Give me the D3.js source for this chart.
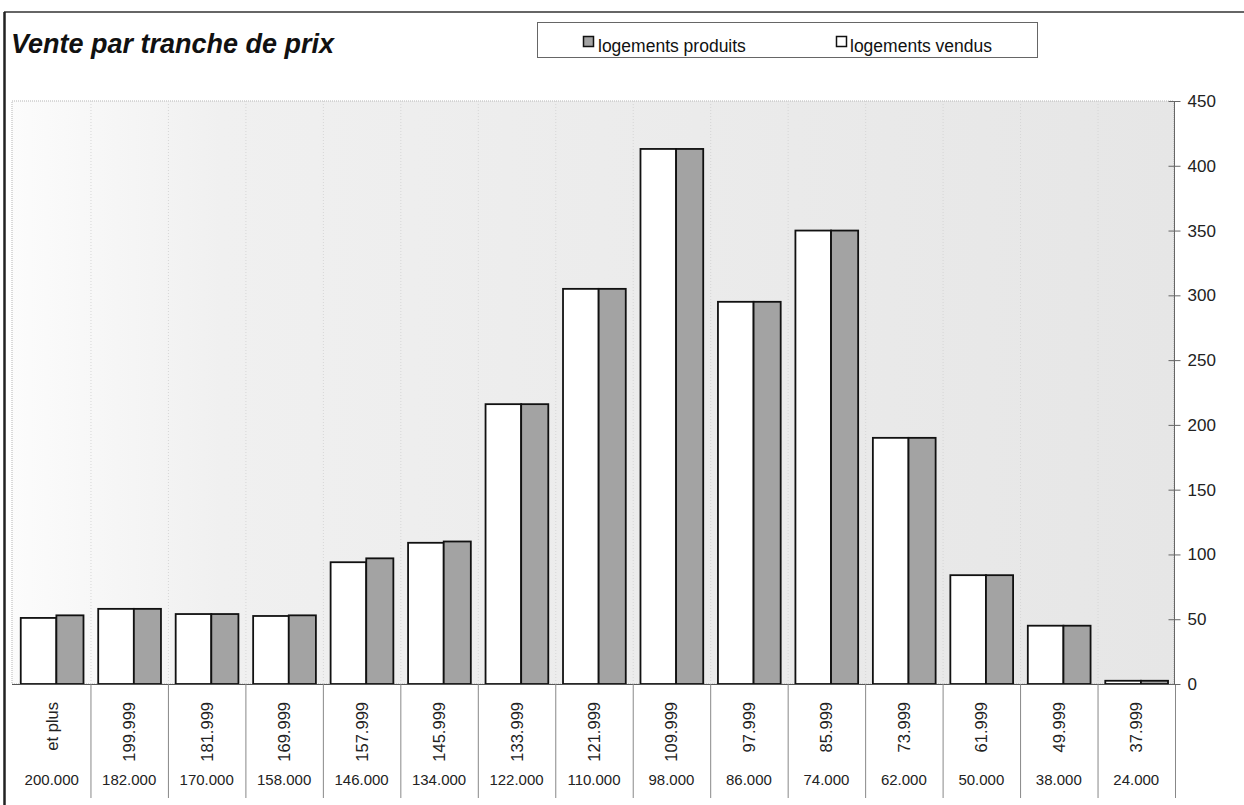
<!DOCTYPE html>
<html>
<head>
<meta charset="utf-8">
<script src="https://cdn.jsdelivr.net/npm/d3@7"></script>
<style>
  html, body { margin: 0; padding: 0; background: #fff; }
  svg { display: block; font-family: "Liberation Sans", Arial, sans-serif; }
</style>
</head>
<body>
<svg id="chart" width="1244" height="805"></svg>
<script>
const upperLabels = ["et plus","199.999","181.999","169.999","157.999","145.999","133.999","121.999","109.999","97.999","85.999","73.999","61.999","49.999","37.999"];
const lowerLabels = ["200.000","182.000","170.000","158.000","146.000","134.000","122.000","110.000","98.000","86.000","74.000","62.000","50.000","38.000","24.000"];
const vendus   = [51, 58, 54, 52.5, 94, 109, 216, 305, 413, 295, 350, 190, 84, 45, 2.5];
const produits = [53, 58, 54, 53, 97, 110, 216, 305, 413, 295, 350, 190, 84, 45, 2.5];
const yTicks = [0, 50, 100, 150, 200, 250, 300, 350, 400, 450];
const seriesNames = ["logements produits", "logements vendus"];

const svg = d3.select("#chart");
const pL = 12, pR = 1174, pT = 101, pB = 684;

const x = d3.scaleBand().domain(upperLabels).range([pL + 1, pR + 1]).padding(0);
const y = d3.scaleLinear().domain([0, 450]).range([pB, pT]);
const bw = x.bandwidth();

// background gradient
const defs = svg.append("defs");
const grad = defs.append("linearGradient").attr("id", "bg").attr("x1", "0").attr("x2", "1").attr("y1", "0").attr("y2", "0");
grad.append("stop").attr("offset", "0%").attr("stop-color", "#fcfcfc");
grad.append("stop").attr("offset", "18%").attr("stop-color", "#f0f0f0");
grad.append("stop").attr("offset", "100%").attr("stop-color", "#e6e6e6");

// outer border
svg.append("line").attr("x1", 4).attr("x2", 1244).attr("y1", 12).attr("y2", 12).attr("stroke", "#333").attr("stroke-width", 1.5);
svg.append("line").attr("x1", 4.5).attr("x2", 4.5).attr("y1", 12).attr("y2", 805).attr("stroke", "#222").attr("stroke-width", 2.5);

// title
svg.append("text").attr("x", 11).attr("y", 53)
  .attr("font-size", 27).attr("font-weight", "bold").attr("font-style", "italic").attr("fill", "#111")
  .text("Vente par tranche de prix");

// legend
const lg = svg.append("g");
lg.append("rect").attr("x", 537.5).attr("y", 22.5).attr("width", 500).attr("height", 35)
  .attr("fill", "#fff").attr("stroke", "#666").attr("stroke-width", 1);
const legendItems = [
  {name: seriesNames[0], fill: "#a3a3a3", sx: 583, tx: 598},
  {name: seriesNames[1], fill: "#fff", sx: 836, tx: 850}
];
legendItems.forEach(d => {
  lg.append("rect").attr("x", d.sx + 0.5).attr("y", 36.5).attr("width", 10).attr("height", 10)
    .attr("fill", d.fill).attr("stroke", "#111").attr("stroke-width", 1.5);
  lg.append("text").attr("x", d.tx).attr("y", 52).attr("font-size", 17.5).attr("fill", "#111").text(d.name);
});

// plot area
svg.append("rect").attr("x", pL).attr("y", pT).attr("width", pR - pL).attr("height", pB - pT)
  .attr("fill", "url(#bg)").attr("stroke", "#b5b5b5").attr("stroke-width", 1).attr("stroke-dasharray", "1,1");

// faint category grid lines in plot
svg.append("g").selectAll("line").data(upperLabels.slice(1)).join("line")
  .attr("x1", d => x(d) + 0.5).attr("x2", d => x(d) + 0.5)
  .attr("y1", pT).attr("y2", pB)
  .attr("stroke", "#d6d6d6").attr("stroke-width", 1).attr("stroke-dasharray", "1,2");

// bars
const bars = svg.append("g");
bars.selectAll("rect.v").data(upperLabels).join("rect").attr("class", "v")
  .attr("x", d => x(d) + bw * 0.1)
  .attr("y", (d, i) => y(vendus[i]))
  .attr("width", bw * 0.46)
  .attr("height", (d, i) => pB - y(vendus[i]))
  .attr("fill", "#fff").attr("stroke", "#111").attr("stroke-width", 1.8);
bars.selectAll("rect.p").data(upperLabels).join("rect").attr("class", "p")
  .attr("x", d => x(d) + bw * 0.56)
  .attr("y", (d, i) => y(produits[i]))
  .attr("width", bw * 0.35)
  .attr("height", (d, i) => pB - y(produits[i]))
  .attr("fill", "#a3a3a3").attr("stroke", "#111").attr("stroke-width", 1.8);

// x axis line
svg.append("line").attr("x1", pL).attr("x2", pR).attr("y1", pB + 0.5).attr("y2", pB + 0.5)
  .attr("stroke", "#555").attr("stroke-width", 1.2);

// table dividers
svg.append("g").selectAll("line").data(upperLabels.slice(1).concat(["__end"])).join("line")
  .attr("x1", d => (d === "__end" ? pR + 1 : x(d)) + 0.5)
  .attr("x2", d => (d === "__end" ? pR + 1 : x(d)) + 0.5)
  .attr("y1", pB).attr("y2", 798)
  .attr("stroke", "#888").attr("stroke-width", 1);

// rotated upper labels
svg.append("g").selectAll("text").data(upperLabels).join("text")
  .attr("transform", d => `translate(${x(d) + bw / 2 + 6},702) rotate(-90)`)
  .attr("text-anchor", "end").attr("font-size", 16.5).attr("fill", "#222")
  .text(d => d);

// lower labels
svg.append("g").selectAll("text").data(upperLabels).join("text")
  .attr("x", d => x(d) + bw / 2).attr("y", 785)
  .attr("text-anchor", "middle").attr("font-size", 15).attr("fill", "#222")
  .text((d, i) => lowerLabels[i]);

// right y axis
const yAxis = d3.axisRight(y).tickValues(yTicks).tickSize(6).tickPadding(8).tickFormat(d3.format("d"));
const ya = svg.append("g").attr("transform", `translate(${pR + 0.5},0)`).call(yAxis);
ya.select(".domain").remove();
ya.selectAll(".tick line").attr("x1", -6).attr("x2", 6).attr("stroke", "#666");
ya.selectAll(".tick text").attr("font-size", 17).attr("fill", "#222").attr("font-family", "Liberation Sans, Arial, sans-serif").attr("x", 13);
svg.append("line").attr("x1", pR + 0.5).attr("x2", pR + 0.5).attr("y1", pT).attr("y2", pB)
  .attr("stroke", "#666").attr("stroke-width", 1);
</script>
</body>
</html>
